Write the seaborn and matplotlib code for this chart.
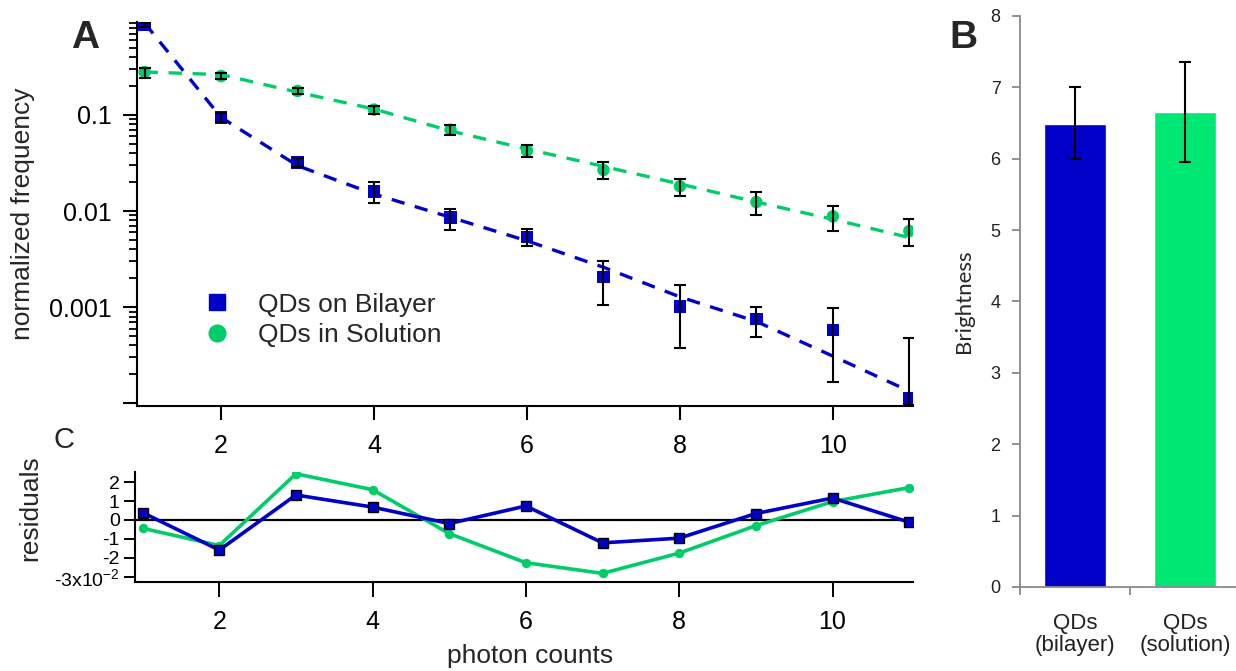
import numpy as np
import pandas as pd
import matplotlib
matplotlib.use("Agg")
import matplotlib.pyplot as plt
import seaborn as sns
from matplotlib.lines import Line2D
from matplotlib.ticker import FixedLocator, FixedFormatter, LogLocator, NullFormatter

# photon count histogram (panel A)
photons = [1, 2, 3, 4, 5, 6, 7, 8, 9, 10, 11]

bilayer_freq = [0.86, 0.0937, 0.032, 0.016, 0.0086, 0.0054, 0.00207, 0.00102, 0.00075, 0.00058, 0.000114]
bilayer_lo = [0.81, 0.0846, 0.0284, 0.0121, 0.0064, 0.0043, 0.00106, 0.000376, 0.000489, 0.000167, 0.0000955]
bilayer_hi = [0.91, 0.105, 0.0358, 0.0201, 0.0104, 0.0065, 0.00305, 0.00169, 0.00101, 0.00099, 0.00048]
bilayer_fit = [0.90, 0.094, 0.0296, 0.0150, 0.0086, 0.0049, 0.0026, 0.00128, 0.00071, 0.00031, 0.000134]

solution_freq = [0.279, 0.253, 0.177, 0.1135, 0.070, 0.0424, 0.0267, 0.0181, 0.0124, 0.0088, 0.0062]
solution_lo = [0.244, 0.234, 0.166, 0.103, 0.062, 0.0361, 0.0213, 0.0144, 0.0090, 0.0062, 0.0043]
solution_hi = [0.309, 0.274, 0.189, 0.124, 0.078, 0.0489, 0.032, 0.0217, 0.0156, 0.0114, 0.0082]
solution_fit = [0.279, 0.262, 0.172, 0.115, 0.068, 0.0441, 0.0291, 0.0191, 0.0124, 0.0082, 0.0053]

# fit residuals (panel C), units of 1e-2
bilayer_resid = [0.39, -1.59, 1.32, 0.68, -0.19, 0.74, -1.21, -0.96, 0.34, 1.16, -0.12]
solution_resid = [-0.44, -1.35, 2.44, 1.60, -0.72, -2.26, -2.82, -1.75, -0.30, 0.97, 1.71]

# brightness (panel B)
bar_labels = ["QDs\n(bilayer)", "QDs\n(solution)"]
brightness = [6.49, 6.66]
bright_lo = [6.0, 5.95]
bright_hi = [7.0, 7.35]

resid_ticks = [-3, -2, -1, 0, 1, 2]
resid_ticklabels = ["-3x10$^{-2}$", "-2", "-1", "0", "1", "2"]

blue = "#0000C8"
green = "#00CC6A"
bar_green = "#00E874"

sns.set_theme(style="ticks")
plt.rcParams["font.family"] = ["Liberation Sans", "DejaVu Sans"]
plt.rcParams["mathtext.default"] = "regular"

fig = plt.figure(figsize=(12.36, 6.71), dpi=100)
axA = fig.add_axes([0.1108, 0.395, 0.628, 0.572])
axC = fig.add_axes([0.1092, 0.132, 0.6295, 0.165])
axB = fig.add_axes([0.8252, 0.1252, 0.178, 0.851])

# ---- panel A
sns.lineplot(x=photons, y=bilayer_fit, ax=axA, color=blue, lw=2.4,
             linestyle=(0, (4, 3.2)), zorder=2)
sns.lineplot(x=photons, y=solution_fit, ax=axA, color=green, lw=2.4,
             linestyle=(0, (4, 3.2)), zorder=2)
sns.scatterplot(x=photons, y=bilayer_freq, ax=axA, marker="s", s=80, color=blue,
                edgecolor="none", zorder=3)
sns.scatterplot(x=photons, y=solution_freq, ax=axA, marker="o", s=80, color=green,
                edgecolor="none", zorder=3)
for f, lo, hi in [(bilayer_freq, bilayer_lo, bilayer_hi), (solution_freq, solution_lo, solution_hi)]:
    f, lo, hi = np.array(f), np.array(lo), np.array(hi)
    axA.errorbar(photons, f, yerr=[f - lo, hi - f], fmt="none", ecolor="black",
                 elinewidth=1.5, capsize=4, capthick=1.5, zorder=4)

axA.set_yscale("log")
axA.set_xlim(0.9, 11.05)
axA.set_ylim(9.4e-5, 0.92)
axA.yaxis.set_major_locator(FixedLocator([1e-4, 1e-3, 1e-2, 1e-1]))
axA.yaxis.set_major_formatter(FixedFormatter(["", "0.001", "0.01", "0.1"]))
axA.yaxis.set_minor_locator(LogLocator(base=10, subs=range(2, 10), numticks=20))
axA.yaxis.set_minor_formatter(NullFormatter())
axA.set_xticks([2, 4, 6, 8, 10])
axA.tick_params(axis="both", which="major", direction="out", length=10, width=1.5,
                labelsize=18, color="black", labelcolor="black")
axA.tick_params(axis="y", which="minor", direction="out", length=6, width=1.3, color="black")
axA.tick_params(axis="y", which="major", pad=8)
axA.tick_params(axis="x", which="major", pad=10)
axA.set_ylabel("normalized frequency", fontsize=19, labelpad=10)
sns.despine(ax=axA)
for s in ["left", "bottom"]:
    axA.spines[s].set_color("black")
    axA.spines[s].set_linewidth(1.5)

handles = [Line2D([], [], marker="s", color=blue, ls="none", markersize=12),
           Line2D([], [], marker="o", color=green, ls="none", markersize=12)]
axA.legend(handles, ["QDs on Bilayer", "QDs in Solution"], loc="center left",
           bbox_to_anchor=(0.086, 0.224), frameon=False, fontsize=19,
           handlelength=1.0, handletextpad=1.05, labelspacing=0.25,
           borderpad=0, borderaxespad=0)

# ---- panel C
axC.axhline(0, color="black", lw=1.6, zorder=1)
sns.lineplot(x=photons, y=solution_resid, ax=axC, color=green, lw=2.6, marker="o",
             markersize=6, markeredgecolor=green, zorder=2)
sns.lineplot(x=photons, y=bilayer_resid, ax=axC, color=blue, lw=2.6, marker="s",
             markersize=7, markeredgecolor="black", markeredgewidth=1, zorder=3)
axC.set_xlim(0.9, 11.05)
axC.set_ylim(-3.3, 2.55)
axC.set_yticks(resid_ticks)
axC.set_yticklabels(resid_ticklabels)
axC.set_xticks([2, 4, 6, 8, 10])
axC.tick_params(axis="y", direction="out", length=8, width=1.4, labelsize=14, pad=3,
                color="black", labelcolor="black")
axC.tick_params(axis="x", direction="out", length=11, width=1.4, labelsize=18, pad=9,
                color="black", labelcolor="black")
sns.despine(ax=axC)
for s in ["left", "bottom"]:
    axC.spines[s].set_color("black")
    axC.spines[s].set_linewidth(1.5)
fig.text(30 / 1236, 1 - 508 / 671, "residuals", rotation=90, fontsize=19,
         ha="center", va="center")
fig.text(530 / 1236, 1 - 656 / 671, "photon counts", fontsize=19, ha="center", va="center")

# ---- panel B
sns.barplot(x=bar_labels, y=brightness, hue=bar_labels, palette=[blue, bar_green],
            legend=False, width=0.57, saturation=1, ax=axB, zorder=2)
b = np.array(brightness)
axB.errorbar([0, 1], b, yerr=[b - np.array(bright_lo), np.array(bright_hi) - b],
             fmt="none", ecolor="black", elinewidth=1.5, capsize=4, capthick=1.5, zorder=3)
axB.set_xlim(-0.5, 1.5)
axB.set_ylim(0, 8)
axB.set_yticks(range(0, 9))
axB.set_xticks([0, 1])
axB.set_xticklabels(bar_labels, fontsize=16, linespacing=1.05)
axB.set_xticks([-0.5, 0.5, 1.5], minor=True)
axB.tick_params(axis="x", which="major", length=0, pad=19, labelcolor="#222222")
axB.tick_params(axis="x", which="minor", direction="out", length=6, width=1.3, color="#888888")
axB.tick_params(axis="y", direction="out", length=6, width=1.3, color="#888888",
                labelsize=13, labelcolor="#222222", pad=8)
axB.set_ylabel("Brightness", fontsize=16, family=["Lato", "DejaVu Sans"], labelpad=12)
axB.set_xlabel("")
sns.despine(ax=axB)
for s in ["left", "bottom"]:
    axB.spines[s].set_color("#888888")
    axB.spines[s].set_linewidth(1.3)

# panel letters
fig.text(85 / 1236, 1 - 38 / 671, "A", fontsize=28, fontweight="bold", ha="center", va="center")
fig.text(963 / 1236, 1 - 38 / 671, "B", fontsize=28, fontweight="bold", ha="center", va="center")
fig.text(64 / 1236, 1 - 440 / 671, "C", fontsize=21, ha="center", va="center")

fig.savefig("out.png", dpi=100)
